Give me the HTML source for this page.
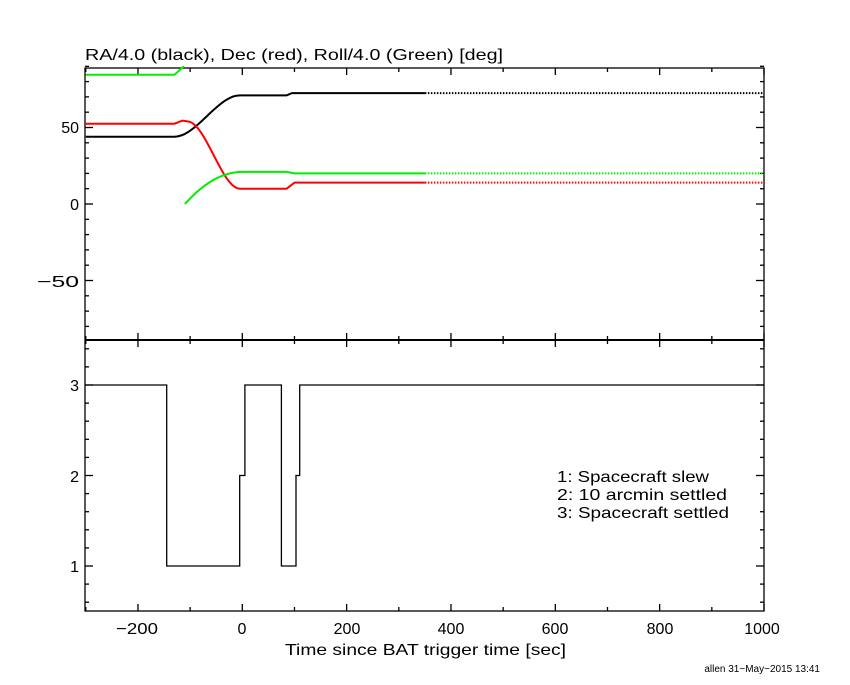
<!DOCTYPE html>
<html><head><meta charset="utf-8"><style>
body{margin:0;background:#fff}
svg text{font-family:"Liberation Sans",sans-serif;font-size:16px;fill:#000}
</style></head><body>
<svg id="s" width="850" height="680" xmlns="http://www.w3.org/2000/svg">
<rect width="850" height="680" fill="#fff"/>
<g id="ax" stroke="#000" stroke-width="1.3" fill="none"></g>
<g id="dt" fill="none" stroke-width="2"></g>
<text x="85" y="60" textLength="418" lengthAdjust="spacingAndGlyphs">RA/4.0 (black), Dec (red), Roll/4.0 (Green) [deg]</text>
<text x="79" y="210" text-anchor="end">0</text>
<text x="79" y="133" text-anchor="end">50</text>
<text x="79" y="287" text-anchor="end" textLength="42" lengthAdjust="spacingAndGlyphs">−50</text>
<text x="79" y="391" text-anchor="end">3</text>
<text x="79" y="482" text-anchor="end">2</text>
<text x="79" y="572" text-anchor="end">1</text>
<text x="116" y="634" textLength="42" lengthAdjust="spacingAndGlyphs">−200</text>
<text x="242" y="634" text-anchor="middle">0</text>
<text x="347" y="634" text-anchor="middle">200</text>
<text x="451" y="634" text-anchor="middle">400</text>
<text x="555" y="634" text-anchor="middle">600</text>
<text x="660" y="634" text-anchor="middle">800</text>
<text x="762" y="634" text-anchor="middle">1000</text>
<text x="285" y="655" textLength="281" lengthAdjust="spacingAndGlyphs">Time since BAT trigger time [sec]</text>
<text x="557" y="482" textLength="152" lengthAdjust="spacingAndGlyphs">1: Spacecraft slew</text>
<text x="557" y="500" textLength="170" lengthAdjust="spacingAndGlyphs">2: 10 arcmin settled</text>
<text x="557" y="518" textLength="172" lengthAdjust="spacingAndGlyphs">3: Spacecraft settled</text>
<text x="820" y="672" text-anchor="end" style="font-size:10px">allen 31−May−2015 13:41</text>
</svg>
<script>
const X=t=>242.3+t*0.5217, L=85, R=764;
const YT=v=>204-v*1.53, YB=v=>566-(v-1)*90.5;
let a='';
const ln=(x1,y1,x2,y2)=>a+=`<path d="M${x1} ${y1}L${x2} ${y2}"/>`;
a+=`<rect x="${L}" y="68" width="${R-L}" height="543"/>`;
a+=`<path d="M${L} 340L${R} 340" stroke-width="2"/>`;
for(let t=-300;t<=1000;t+=100){const x=X(t),m=t%200==0?7:4;ln(x,611,x,611-m);ln(x,68,x,68+m);ln(x,340,x,340-m);ln(x,340,x,340+m);}
for(let v=-80;v<=90;v+=10){const y=YT(v),m=v%50==0?8:4;ln(L,y,L+m,y);ln(R,y,R-m,y);}
for(let i=3;i<=17;i++){const v=i*0.2,y=YB(v),m=(i%5==0)?8:4;if(y<341||y>611)continue;ln(L,y,L+m,y);ln(R,y,R-m,y);}
document.getElementById('ax').innerHTML=a;
function path(pts,col,dash){return `<polyline stroke="${col}" ${dash?'stroke-dasharray="1.5 1.5"':''} points="${pts.map(p=>X(p[0]).toFixed(1)+','+YT(p[1]).toFixed(1)).join(' ')}"/>`;}
function sm(t0,t1,v0,v1,n=20){let r=[];for(let i=0;i<=n;i++){const f=i/n,s=f*f*(3-2*f);r.push([t0+(t1-t0)*f,v0+(v1-v0)*s]);}return r;}
function ease(t0,t1,v0,v1,n=20){let r=[];for(let i=0;i<=n;i++){const f=i/n,s=1-(1-f)*(1-f);r.push([t0+(t1-t0)*f,v0+(v1-v0)*s]);}return r;}
let d='';
d+=path([[-300,44],...sm(-130,-5,44,71),[85,71],[95,72.5],[350,72.5]],'#000');
d+=path([[350,72.5],[1000,72.5]],'#000',1);
d+=path([[-300,52.5],[-130,52.5],[-115,54.5],[-105,54],...sm(-105,-5,54,10).slice(1),[85,10],[100,14],[350,14]],'#f00');
d+=path([[350,14],[1000,14]],'#f00',1);
d+=path([[-300,84.5],[-130,84.5],[-112,90]],'#0e0');
d+=path([...ease(-110,0,0,21),[85,21],[100,20],[350,20]],'#0e0');
d+=path([[350,20],[1000,20]],'#0e0',1);
const st=[[-300,3],[-145,1],[-5,2],[5,3],[75,1],[103,2],[110,3],[1000,3]];
let p=[];for(let i=0;i<st.length-1;i++){p.push([st[i][0],st[i][1]],[st[i+1][0],st[i][1]]);}
d+=`<polyline stroke="#000" stroke-width="1.3" points="${p.map(q=>X(q[0]).toFixed(1)+','+YB(q[1]).toFixed(1)).join(' ')}"/>`;
document.getElementById('dt').innerHTML=d;
</script>
</body></html>
